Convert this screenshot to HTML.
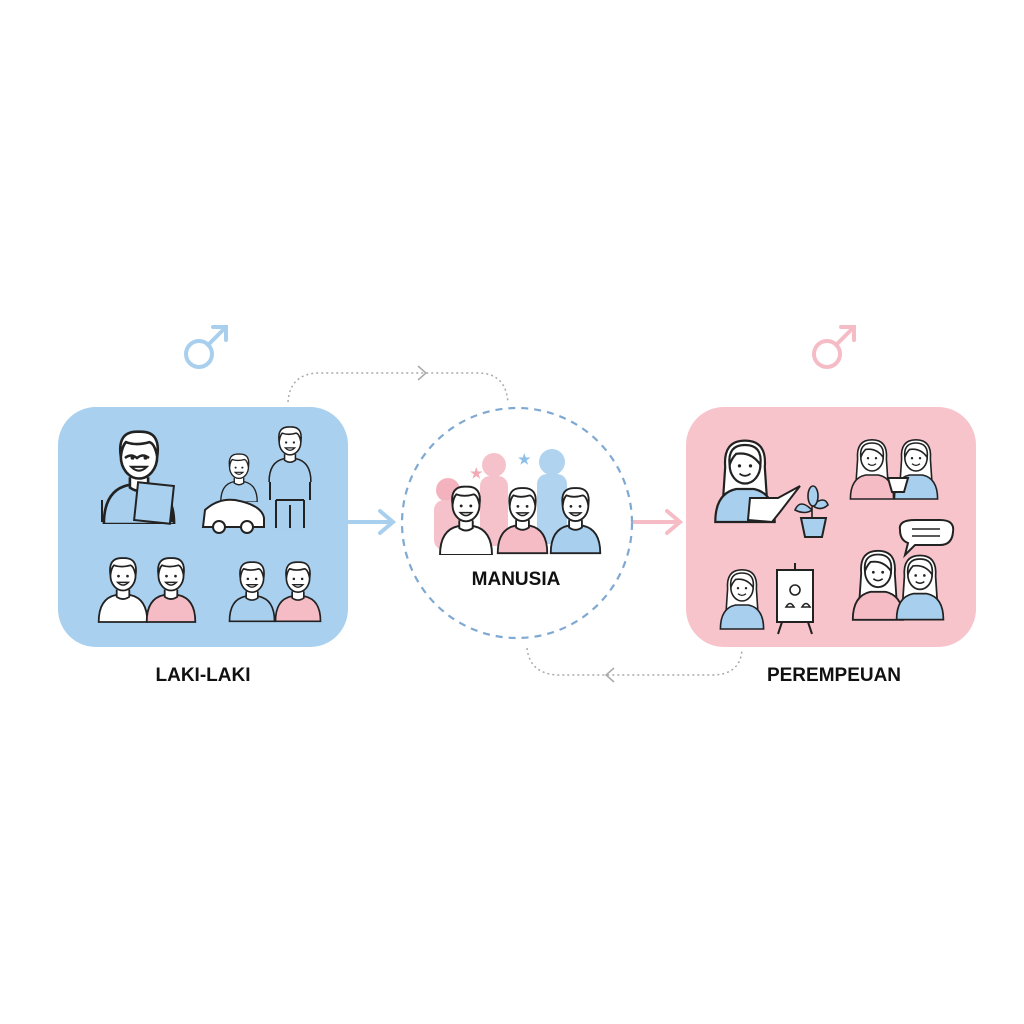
<!DOCTYPE html>
<html><head><meta charset="utf-8"><style>
html,body{margin:0;padding:0;background:#fff;}
svg{display:block}
text{font-family:"Liberation Sans",sans-serif;font-weight:bold;}
</style></head><body>
<svg width="1024" height="1024" viewBox="0 0 1024 1024" xmlns="http://www.w3.org/2000/svg">
<defs>
<symbol id="m" viewBox="0 0 60 80">
<path d="M3 80 Q3 54 22 50 L38 50 Q57 54 57 80 Z" fill="currentColor" stroke="#222" stroke-width="2"/>
<path d="M23 44 L23 52 Q30 57 37 52 L37 44" fill="#fff" stroke="#222" stroke-width="2"/>
<ellipse cx="30" cy="28" rx="14" ry="17" fill="#fff" stroke="#222" stroke-width="2"/>
<path d="M16 28 Q13 8 30 9 Q47 8 44 28 Q42 18 38 17 Q28 20 20 17 Q17 20 16 28Z" fill="#fff" stroke="#222" stroke-width="2"/>
<circle cx="25" cy="29" r="1.5" fill="#222"/><circle cx="35" cy="29" r="1.5" fill="#222"/>
<path d="M24 36 Q30 42 36 36Z" fill="#fff" stroke="#222" stroke-width="1.6"/>
</symbol>
<symbol id="f" viewBox="0 0 60 80">
<path d="M12 30 Q10 6 30 6 Q50 6 48 30 L50 60 L10 60 Z" fill="#fff" stroke="#222" stroke-width="2"/>
<path d="M3 80 Q3 54 22 50 L38 50 Q57 54 57 80 Z" fill="currentColor" stroke="#222" stroke-width="2"/>
<ellipse cx="30" cy="28" rx="14" ry="17" fill="#fff" stroke="#222" stroke-width="2"/>
<path d="M16 28 Q14 10 30 10 Q46 10 44 28 Q36 16 22 18 Q18 22 16 28Z" fill="#fff" stroke="#222" stroke-width="2"/>
<circle cx="25" cy="29" r="1.5" fill="#222"/><circle cx="35" cy="29" r="1.5" fill="#222"/>
<path d="M25 36 Q30 40 35 36" fill="none" stroke="#222" stroke-width="1.6"/>
</symbol>
</defs>

<!-- gender symbols -->
<g fill="none" stroke="#a8cfee" stroke-width="4" stroke-linecap="round">
<circle cx="199" cy="354" r="13"/><path d="M208 345 L226 327 M213 327 L226 327 L226 340"/>
</g>
<g fill="none" stroke="#f5bcc6" stroke-width="4" stroke-linecap="round">
<circle cx="827" cy="354" r="13"/><path d="M836 345 L854 327 M841 327 L854 327 L854 340"/>
</g>

<!-- dotted connectors -->
<g fill="none" stroke="#aaa" stroke-width="1.5" stroke-dasharray="2 3">
<path d="M288 402 Q290 373 320 373 L478 373 Q506 373 508 403"/>
<path d="M418 366 L426 373 L418 380" stroke-dasharray="none"/>
<path d="M527 648 Q530 675 560 675 L712 675 Q740 675 742 650"/>
<path d="M614 668 L606 675 L614 682" stroke-dasharray="none"/>
</g>

<!-- boxes -->
<rect x="58" y="407" width="290" height="240" rx="38" fill="#a9d0ee"/>
<rect x="686" y="407" width="290" height="240" rx="38" fill="#f7c4cc"/>

<!-- arrows -->
<g fill="none" stroke="#a8cfee" stroke-width="4" stroke-linecap="round"><path d="M349 522 L392 522 M380 511 L393 522 L380 533"/></g>
<g fill="none" stroke="#f5bcc6" stroke-width="4" stroke-linecap="round"><path d="M634 522 L679 522 M667 511 L680 522 L667 533"/></g>

<!-- circle -->
<circle cx="517" cy="523" r="115" fill="#fff" stroke="#7fa9d2" stroke-width="2.2" stroke-dasharray="7 6"/>
<g opacity="0.9">
<circle cx="448" cy="490" r="12" fill="#f2aab6"/><rect x="434" y="500" width="28" height="50" rx="10" fill="#f5bcc6"/>
<circle cx="494" cy="465" r="12" fill="#f5bcc6"/><rect x="480" y="476" width="28" height="70" rx="10" fill="#f5bcc6"/>
<circle cx="552" cy="462" r="13" fill="#a8cfee"/><rect x="537" y="474" width="30" height="70" rx="10" fill="#a8cfee"/>
</g>
<text x="470" y="478" font-size="14" fill="#f2aab6" font-weight="normal">★</text>
<text x="518" y="464" font-size="14" fill="#8cc0ea" font-weight="normal">★</text>
<use href="#m" x="437" y="478" width="58" height="77" style="color:#fff"/>
<use href="#m" x="495" y="478" width="55" height="77" style="color:#f5bcc6"/>
<use href="#m" x="548" y="478" width="55" height="77" style="color:#a8cfee"/>
<text x="516" y="585" font-size="19" text-anchor="middle" fill="#111">MANUSIA</text>

<!-- left box people -->
<use href="#m" x="98" y="420" width="82" height="104" style="color:#a8cfee"/>
<path d="M102 522 L102 500 M172 522 L172 500" stroke="#222" stroke-width="2"/>
<rect x="136" y="484" width="36" height="38" fill="#a9d0ee" stroke="#222" stroke-width="2" transform="rotate(6 154 503)"/>
<path d="M125 458 Q131 453 137 458 Q143 453 149 458" fill="none" stroke="#222" stroke-width="2.5"/>
<use href="#m" x="266" y="420" width="48" height="62" style="color:#a8cfee"/>
<rect x="270" y="480" width="40" height="50" fill="#a8cfee"/>
<path d="M270 482 L270 500 M310 482 L310 500 M276 500 L276 528 M304 500 L304 528 M290 505 L290 528 M276 500 L304 500" fill="none" stroke="#222" stroke-width="2"/>
<use href="#m" x="218" y="448" width="42" height="54" style="color:#a8cfee"/>
<path d="M203 527 L205 510 Q218 498 235 500 Q262 505 264 518 L264 527 Z" fill="#fff" stroke="#222" stroke-width="2"/>
<circle cx="219" cy="527" r="6" fill="#fff" stroke="#222" stroke-width="2"/><circle cx="247" cy="527" r="6" fill="#fff" stroke="#222" stroke-width="2"/>
<use href="#m" x="96" y="548" width="54" height="76" style="color:#fff"/>
<use href="#m" x="144" y="548" width="54" height="76" style="color:#f5bcc6"/>
<use href="#m" x="227" y="552" width="50" height="72" style="color:#a8cfee"/>
<use href="#m" x="273" y="552" width="50" height="72" style="color:#f5bcc6"/>
<text x="203" y="681" font-size="19" text-anchor="middle" fill="#111">LAKI-LAKI</text>

<!-- right box people -->
<use href="#f" x="712" y="428" width="66" height="100" style="color:#a8cfee"/>
<path d="M748 520 L750 498 L778 498 L800 486 L780 512 L772 522 Z" fill="#fff" stroke="#222" stroke-width="2"/>
<path d="M812 488 L812 520 M812 510 Q800 498 795 510 Q805 515 812 510 M812 505 Q825 495 828 505 Q820 512 812 505" fill="#a8cfee" stroke="#222" stroke-width="1.6"/>
<ellipse cx="813" cy="496" rx="5" ry="10" fill="#a8cfee" stroke="#222" stroke-width="1.6"/>
<path d="M801 518 L826 518 L822 537 L805 537 Z" fill="#a8cfee" stroke="#222" stroke-width="2"/>
<use href="#f" x="848" y="428" width="48" height="78" style="color:#f5bcc6"/>
<use href="#f" x="892" y="428" width="48" height="78" style="color:#a8cfee"/>
<path d="M888 478 L908 478 L904 492 L892 492 Z" fill="#fff" stroke="#222" stroke-width="2"/>
<use href="#f" x="718" y="562" width="48" height="70" style="color:#a8cfee"/>
<rect x="777" y="570" width="36" height="52" fill="#fff" stroke="#222" stroke-width="2"/>
<path d="M782 622 L778 634 M808 622 L812 634 M795 563 L795 570" stroke="#222" stroke-width="2"/>
<circle cx="795" cy="590" r="5" fill="none" stroke="#222" stroke-width="1.6"/>
<path d="M786 607 Q790 600 794 607 Z M802 607 Q806 600 810 607 Z" fill="none" stroke="#222" stroke-width="1.6"/>
<use href="#f" x="850" y="535" width="56" height="95" style="color:#f5bcc6"/>
<use href="#f" x="894" y="540" width="52" height="90" style="color:#a8cfee"/>
<path d="M900 530 Q898 520 915 520 L940 520 Q955 520 953 532 Q952 545 940 545 L915 545 L905 555 L908 543 Q900 540 900 530Z" fill="#fff" stroke="#222" stroke-width="2"/>
<path d="M912 529 L940 529 M912 536 L940 536" stroke="#222" stroke-width="1.6"/>
<text x="834" y="681" font-size="19" text-anchor="middle" fill="#111">PEREMPEUAN</text>
</svg>
</body></html>
